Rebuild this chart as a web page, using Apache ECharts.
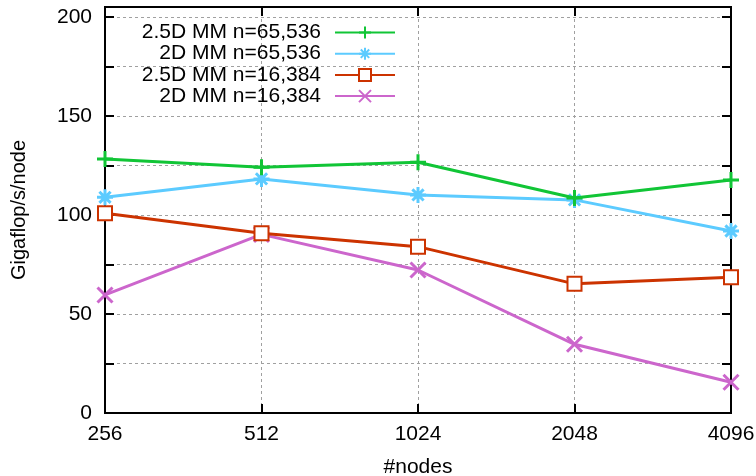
<!DOCTYPE html>
<html><head><meta charset="utf-8">
<script src="https://cdn.jsdelivr.net/npm/echarts@6/dist/echarts.min.js"></script>
<style>html,body{margin:0;padding:0;background:#fff}#c{width:756px;height:476px}</style>
</head><body><div id="c"></div>
<script>
const categories = ['256', '512', '1024', '2048', '4096'];
const seriesNames = ['2.5D MM n=65,536', '2D MM n=65,536', '2.5D MM n=16,384', '2D MM n=16,384'];
const mm25d_65536 = [128.3, 124.1, 126.6, 108.6, 117.7];
const mm2d_65536 = [108.9, 118.2, 110.1, 107.6, 91.9];
const mm25d_16384 = [100.9, 90.8, 84.0, 65.2, 68.5];
const mm2d_16384 = [59.6, 90.2, 72.2, 34.7, 15.5];
const yTickLabels = [0, 50, 100, 150, 200];

const FONT = 'Liberation Sans';
const colors = ['#11c536', '#5ccbff', '#cc3300', '#cc66cc'];
const symbols = [
  'path://M5,0L5,10M0,5L10,5',
  'path://M5,0L5,10M0,5L10,5M1.5,1.5L8.5,8.5M8.5,1.5L1.5,8.5',
  'emptyRect',
  'path://M0,0L10,10M10,0L0,10'
];
const symbolSizes = [16, 16, 14, 15];
const allData = [mm25d_65536, mm2d_65536, mm25d_16384, mm2d_16384];

const series = allData.map((d, i) => ({
  name: seriesNames[i],
  type: 'line',
  data: d,
  xAxisIndex: i === 0 ? 1 : 0,
  yAxisIndex: i === 0 ? 1 : 0,
  symbol: symbols[i],
  symbolSize: symbolSizes[i],
  showAllSymbol: true,
  lineStyle: { color: colors[i], width: 3 },
  itemStyle: { color: colors[i], borderColor: colors[i], borderWidth: 3 },
  emphasis: { disabled: true },
  animation: false,
  z: 10 - i
}));

const legends = seriesNames.map((n, i) => ({
  data: [n],
  orient: 'vertical',
  align: 'right',
  right: 360,
  top: 22 + i * 21.2,
  itemWidth: 60,
  itemHeight: 15,
  itemGap: 0,
  padding: 0,
  selectedMode: false,
  textStyle: { fontFamily: FONT, fontSize: 21, color: '#000', padding: [0, 9, 0, 0] }
}));

const gridLine = { show: true, lineStyle: { color: '#a0a0a0', type: [3, 3], width: 1 } };
const axisLine = { show: true, onZero: false, lineStyle: { color: '#000', width: 2 } };
const tick = { show: true, inside: true, length: 9, lineStyle: { color: '#000', width: 2 } };

const chart = echarts.init(document.getElementById('c'), null, { renderer: 'canvas' });
chart.setOption({
  backgroundColor: '#fff',
  animation: false,
  grid: { left: 105, right: 25, top: 7, bottom: 63, containLabel: false, outerBoundsMode: 'none',
          show: true, borderColor: '#000', borderWidth: 2, backgroundColor: 'transparent' },
  legend: legends,
  xAxis: [{
    type: 'category', data: categories, boundaryGap: false, position: 'bottom',
    name: '#nodes', nameLocation: 'middle', nameGap: 44,
    nameTextStyle: { fontFamily: FONT, fontSize: 21, color: '#000' },
    axisLine: axisLine, axisTick: tick,
    axisLabel: { fontFamily: FONT, fontSize: 21, color: '#000', margin: 11 },
    splitLine: gridLine
  }, {
    type: 'category', data: categories, boundaryGap: false, position: 'top',
    axisLine: axisLine, axisTick: tick,
    axisLabel: { show: false }, splitLine: { show: false }
  }],
  yAxis: [{
    type: 'value', min: 0, max: 205, interval: 25, position: 'left',
    name: 'Gigaflop/s/node', nameLocation: 'middle', nameGap: 76, nameRotate: 90,
    nameTextStyle: { fontFamily: FONT, fontSize: 20, color: '#000' },
    axisLine: axisLine, axisTick: tick,
    axisLabel: {
      fontFamily: FONT, fontSize: 21, color: '#000', margin: 13, showMaxLabel: false,
      formatter: v => (yTickLabels.indexOf(v) >= 0 ? String(v) : '')
    },
    splitLine: gridLine
  }, {
    type: 'value', min: 0, max: 205, interval: 25, position: 'right',
    axisLine: axisLine, axisTick: tick,
    axisLabel: { show: false }, splitLine: { show: false }
  }],
  series: series
});
</script></body></html>
